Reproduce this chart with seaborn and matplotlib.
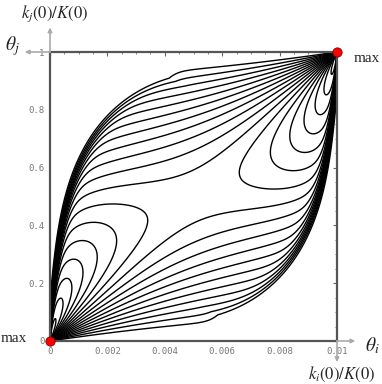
import numpy as np
import matplotlib.pyplot as plt
import seaborn as sns

# ----------------------------
# Data
# ----------------------------
x_max = 0.01
x_ticks = [0, 0.002, 0.004, 0.006, 0.008, 0.01]
x_tick_labels = ["0", "0.002", "0.004", "0.006", "0.008", "0.01"]
y_ticks = [0, 0.2, 0.4, 0.6, 0.8, 1]
y_tick_labels = ["0", "0.2", "0.4", "0.6", "0.8", "1"]

max_x = [0, 0.01]
max_y = [0, 1]

# surface settings
ridge_shape = [1.2, 0.2]             # angular profile exponents seen from each max corner
diag_gain = 0.08                     # rise toward the two max corners
edge_cut = [0.97, 0.2, 0.012, 12.0]  # cliff angle, its drift, softness, strength
level_start = 0.16                   # contour levels, in units of the saddle value
level_step = 0.08
n_levels = 18

sns.set_style("white")
plt.rcParams["mathtext.fontset"] = "stix"


def profile(t):
    a, b = ridge_shape
    return t ** a * (1 - t) ** b


def cut(t, r):
    tc, drift, w, k = edge_cut
    rc = np.minimum(r, 1.0)
    return k * r / (1 + np.exp(-(t - (tc - drift * rc ** 3)) / w))


gx = np.linspace(0, x_max, 900)
gy = np.linspace(0, 1, 900)
X, Y = np.meshgrid(gx, gy)
U = X / x_max
t1 = np.arctan2(Y, U) / (np.pi / 2)
t2 = np.arctan2(1 - Y, 1 - U) / (np.pi / 2)
r1 = np.hypot(U, Y)
r2 = np.hypot(1 - U, 1 - Y)
Z = profile(t1) * profile(t2) * (1 + diag_gain * (U + Y - 1) ** 2) \
    * np.exp(-cut(t1, r1) - cut(t2, r2))

saddle = profile(0.5) ** 2
levels = (level_start + level_step * np.arange(n_levels)) * saddle

fig = plt.figure(figsize=(3.82, 3.84), dpi=100)
ax = fig.add_axes([50 / 382, 43 / 384, 287 / 382, 289 / 384])

ax.contour(X, Y, Z, levels=levels, colors="black", linewidths=1.0)

sns.scatterplot(x=max_x, y=max_y, ax=ax, color="red", edgecolor="#600", s=45,
                zorder=10, clip_on=False)

ax.set_xlim(0, x_max)
ax.set_ylim(0, 1)
ax.set_xticks(x_ticks)
ax.set_xticklabels(x_tick_labels)
ax.set_yticks(y_ticks)
ax.set_yticklabels(y_tick_labels)
ax.set_xticks(np.arange(0, 0.0101, 0.0005), minor=True)
ax.set_yticks(np.arange(0, 1.01, 0.05), minor=True)
ax.tick_params(which="both", direction="in", top=True, right=True, color="#666",
               labelcolor="#777", labelsize=6.5, pad=4)
ax.tick_params(which="major", length=3, width=0.8)
ax.tick_params(which="minor", length=1.5, width=0.6)
for lab in ax.get_xticklabels() + ax.get_yticklabels():
    lab.set_family("DejaVu Sans Mono")
for s in ax.spines.values():
    s.set_color("#555")
    s.set_linewidth(1.6)

# axis arrows running past the frame
arrow = dict(arrowstyle="-|>", color="#aaa", lw=1.2, mutation_scale=6, shrinkA=0, shrinkB=0)
ax.annotate("", xy=(0, 1.085), xytext=(0, 1), arrowprops=arrow, annotation_clip=False)
ax.annotate("", xy=(-0.00088, 1), xytext=(0, 1), arrowprops=arrow, annotation_clip=False)
ax.annotate("", xy=(0.01064, 0), xytext=(x_max, 0), arrowprops=arrow, annotation_clip=False)
ax.annotate("", xy=(x_max, -0.073), xytext=(x_max, 0), arrowprops=arrow, annotation_clip=False)

fig.text(55 / 382, 1 - 14 / 384, r"$k_j(0)/K(0)$", fontsize=12, ha="center", va="center")
fig.text(13 / 382, 1 - 46 / 384, r"$\theta_j$", fontsize=14, ha="center", va="center")
fig.text(14 / 382, 1 - 338 / 384, "max", family="Liberation Serif", fontsize=11,
         ha="center", va="center")
fig.text(367 / 382, 1 - 58 / 384, "max", family="Liberation Serif", fontsize=11,
         ha="center", va="center")
fig.text(372 / 382, 1 - 346 / 384, r"$\theta_i$", fontsize=14, ha="center", va="center")
fig.text(342 / 382, 1 - 374 / 384, r"$k_i(0)/K(0)$", fontsize=12, ha="center", va="center")

fig.savefig("out.png", dpi=100)
plt.close()
